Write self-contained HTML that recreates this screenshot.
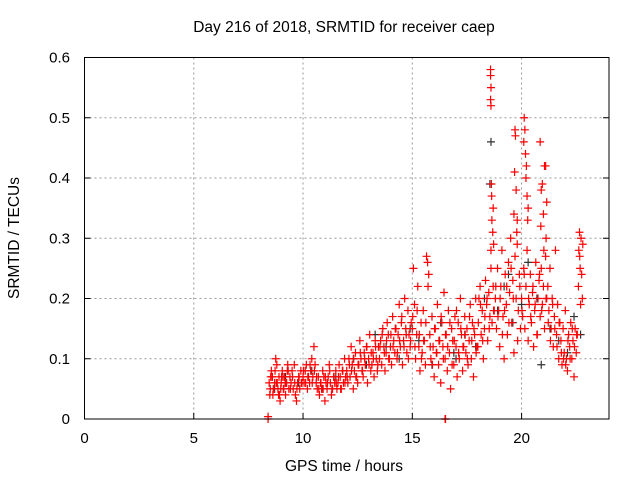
<!DOCTYPE html>
<html><head><meta charset="utf-8"><style>
html,body{margin:0;padding:0;background:#fff;}
svg{display:block;font-family:"Liberation Sans",sans-serif;}
</style></head><body>
<svg id="chart" width="640" height="480" viewBox="0 0 640 480">
<rect width="640" height="480" fill="#fff"/>
<text x="344" y="32" font-size="15.5" text-anchor="middle" fill="#000">Day 216 of 2018, SRMTID for receiver caep</text>
<text x="19" y="238" font-size="15.5" text-anchor="middle" transform="rotate(-90 19 238)">SRMTID / TECUs</text>
<text x="344" y="471" font-size="15.5" text-anchor="middle">GPS time / hours</text>
<g id="grid"></g><g id="ticks"></g><g id="black"></g><g id="red"></g>
<rect x="84.5" y="57.5" width="524.5" height="361.5" fill="none" stroke="#000" stroke-width="1"/>
</svg>
<script>
const xTicks=[0,5,10,15,20];
const yTicks=[0,0.1,0.2,0.3,0.4,0.5,0.6];
const yTickLabels=["0","0.1","0.2","0.3","0.4","0.5","0.6"];
const redT=[8.45,8.5,8.55,8.6,8.62,8.7,8.75,8.8,8.85,8.9,8.95,9.0,9.05,9.1,9.15,9.2,9.25,9.3,9.35,9.4,9.45,9.5,9.55,9.6,9.65,9.7,9.75,9.8,9.85,9.9,9.95,8.48,8.58,8.68,8.78,8.88,8.98,9.08,9.18,9.28,
10.0,10.05,10.1,10.15,10.2,10.25,10.3,10.35,10.4,10.45,10.5,10.55,10.6,10.65,10.7,10.75,10.8,10.85,10.9,10.95,11.0,11.05,11.1,11.15,11.2,11.25,11.3,11.35,11.4,11.45,11.5,11.55,11.6,11.65,11.7,11.75,11.8,11.85,11.9,11.95,
12.0,12.05,12.1,12.15,12.2,12.25,12.3,12.35,12.4,12.45,12.5,12.55,12.6,12.65,12.7,12.75,12.8,12.85,12.9,12.95,13.0,13.05,13.1,13.15,13.2,13.25,13.3,13.35,13.4,13.45,
13.5,13.55,13.6,13.65,13.7,13.75,13.8,13.85,13.9,13.95,14.0,14.05,14.1,14.15,14.2,14.25,14.3,14.35,14.4,14.45,14.5,14.55,14.6,14.65,14.7,14.75,14.8,14.85,14.9,14.95,
15.0,15.05,15.1,15.15,15.2,15.25,15.3,15.35,15.4,15.45,15.5,15.55,15.6,15.65,15.7,15.75,15.8,15.85,15.9,15.95,16.0,16.05,16.1,16.15,16.2,16.25,16.3,16.35,16.4,16.45,16.5,16.55,16.6,16.65,16.7,16.75,16.8,16.85,16.9,16.95,17.0,17.05,17.1,17.15,17.2,17.25,17.3,17.35,17.4,17.45,17.5,17.55,17.6,17.65,17.7,17.75,17.8,17.85,17.9,17.95,
18.0,18.05,18.1,18.15,18.2,18.25,18.3,18.35,18.4,18.45,18.5,18.55,18.6,18.65,18.7,18.75,18.58,18.58,18.6,18.58,18.6,18.62,18.63,18.7,18.64,18.68,18.72,18.6,
18.8,18.85,18.9,18.95,19.0,19.05,19.1,19.15,19.2,19.25,19.3,19.35,19.4,19.45,19.5,19.55,19.6,19.65,19.7,19.75,19.8,19.85,19.9,19.95,19.7,19.72,19.68,19.75,19.65,19.8,19.78,
20.0,20.05,20.1,20.15,20.2,20.25,20.3,20.35,20.4,20.45,20.5,20.55,20.6,20.65,20.7,20.75,20.8,20.85,20.9,20.95,21.0,21.05,21.1,21.15,20.12,20.15,20.1,20.18,20.22,20.2,20.25,20.3,20.28,20.85,21.05,21.1,20.95,20.9,21.15,21.0,20.88,21.12,
21.2,21.25,21.3,21.35,21.4,21.45,21.5,21.55,21.6,21.65,21.7,21.75,21.8,21.85,21.9,21.95,22.0,22.05,22.1,22.15,22.2,22.25,22.3,22.35,22.4,22.45,22.5,22.55,22.6,22.62,22.65,22.68,22.7,22.72,22.75,22.78,22.8,22.66];
const redV=[.06,.05,.08,.07,.04,.06,.1,.09,.05,.07,.03,.06,.08,.05,.07,.04,.06,.09,.05,.07,.06,.08,.05,.09,.04,.03,.06,.07,.05,.08,.06,.04,.07,.05,.06,.04,.05,.07,.06,.08,
.07,.06,.08,.09,.05,.07,.06,.08,.1,.07,.12,.09,.06,.05,.07,.04,.06,.05,.08,.07,.03,.06,.05,.07,.09,.06,.04,.05,.07,.06,.08,.05,.06,.09,.07,.05,.08,.06,.1,.07,
.08,.06,.1,.07,.12,.09,.05,.08,.11,.07,.06,.09,.13,.1,.08,.07,.11,.09,.12,.06,.1,.14,.08,.09,.11,.07,.13,.1,.08,.12,
.1,.13,.09,.15,.12,.08,.11,.16,.14,.1,.12,.09,.17,.13,.11,.15,.1,.14,.19,.12,.16,.09,.13,.2,.15,.11,.18,.14,.12,.16,
.15,.25,.19,.1,.14,.22,.12,.08,.16,.11,.18,.13,.09,.27,.26,.24,.14,.1,.17,.12,.07,.15,.11,.19,.09,.13,.06,.16,.12,.21,.1,.14,.08,.18,.11,.05,.15,.13,.09,.17,.12,.07,.16,.1,.2,.14,.08,.12,.17,.11,.15,.09,.13,.19,.1,.16,.07,.14,.2,.12,
.12,.2,.22,.14,.18,.1,.15,.23,.19,.13,.21,.17,.25,.16,.22,.18,.58,.57,.55,.53,.52,.39,.37,.35,.33,.31,.29,.28,
.2,.15,.25,.18,.12,.22,.28,.17,.1,.24,.19,.14,.26,.21,.3,.16,.23,.11,.27,.2,.29,.18,.24,.15,.48,.47,.41,.38,.34,.33,.31,
.2,.17,.25,.15,.22,.28,.13,.19,.24,.16,.21,.12,.18,.26,.14,.2,.23,.17,.25,.19,.22,.15,.27,.2,.5,.48,.46,.44,.42,.4,.37,.35,.33,.46,.42,.42,.39,.38,.36,.34,.32,.3,
.22,.18,.25,.15,.2,.12,.17,.28,.14,.19,.1,.16,.13,.09,.15,.11,.18,.1,.08,.14,.12,.16,.1,.13,.07,.15,.11,.14,.22,.28,.31,.25,.19,.3,.24,.2,.29,.27];
const extraT=[8.52,8.64,8.72,8.82,8.92,9.02,9.12,9.22,9.32,9.42,9.52,9.62,9.72,9.82,9.92,10.02,10.12,10.22,10.32,10.42,10.52,10.62,10.72,10.82,10.92,11.02,11.12,11.22,11.32,11.42,11.52,11.62,11.72,11.82,11.92,12.02,12.12,12.22,12.32,12.42,12.52,12.62,12.72,12.82,12.92,13.02,13.12,13.22,13.32,13.42,13.52,13.62,13.72,13.82,13.92,14.02,14.12,14.22,14.32,14.42,14.52,14.62,14.72,14.82,14.92,15.02,15.12,15.22,15.32,15.42,15.52,15.62,15.72,15.82,15.92,16.02,16.12,16.22,16.32,16.42,16.52,16.62,16.72,16.82,16.92,17.02,17.12,17.22,17.32,17.42,17.52,17.62,17.72,17.82,17.92,18.02,18.12,18.22,18.32,18.42,18.52,18.72,18.82,18.92,19.02,19.12,19.22,19.32,19.42,19.52,19.62,19.82,19.92,20.02,20.12,20.32,20.42,20.52,20.62,20.72,20.82,20.92,21.02,21.12,21.22,21.32,21.42,21.52,21.62,21.72,21.82,21.92,22.02,22.12,22.22,22.32,22.42,22.52];
const extraV=[.07,.05,.08,.06,.04,.07,.05,.06,.08,.05,.07,.06,.05,.07,.06,.08,.06,.07,.09,.06,.08,.07,.05,.06,.05,.07,.06,.08,.05,.07,.06,.07,.05,.08,.06,.07,.09,.08,.1,.07,.09,.11,.08,.1,.12,.09,.11,.1,.12,.09,.12,.14,.11,.13,.1,.14,.12,.15,.11,.13,.17,.12,.14,.1,.13,.17,.12,.18,.14,.1,.13,.16,.22,.12,.09,.15,.11,.13,.17,.1,.14,.12,.16,.09,.13,.18,.11,.15,.12,.14,.1,.17,.13,.15,.11,.16,.19,.13,.17,.2,.15,.18,.22,.17,.2,.14,.18,.22,.16,.25,.2,.13,.22,.18,.24,.2,.17,.22,.19,.14,.24,.18,.28,.2,.16,.13,.19,.15,.12,.16,.11,.1,.09,.13,.1,.15,.12,.14];
const zeroT=[8.4,8.4,16.5,16.52];
const zeroV=[0,0.004,0,0];
const blackT=[8.7,9.2,9.8,10.4,10.9,11.5,12.3,12.9,13.3,13.8,14.4,14.9,15.3,15.9,16.3,16.9,17.4,17.9,18.3,18.55,18.6,18.9,19.2,19.6,20.0,20.3,20.7,20.9,21.3,21.7,22.1,22.4,22.7,19.4,17.0];
const blackV=[.05,.07,.06,.08,.05,.07,.1,.09,.14,.12,.1,.15,.13,.09,.16,.11,.14,.12,.2,.39,.46,.18,.22,.16,.19,.26,.2,.09,.15,.13,.11,.17,.14,.24,.1];

const X0=84.5,X1=609,XMAX=24,Y0=419,Y1=57.5,YMAX=0.6;
const sx=t=>X0+(X1-X0)*t/XMAX;
const sy=v=>Y0-(Y0-Y1)*v/YMAX;
const NS="http://www.w3.org/2000/svg";
const grid=document.getElementById('grid'),ticks=document.getElementById('ticks');
function mk(tag,attrs,parent){const e=document.createElementNS(NS,tag);for(const k in attrs)e.setAttribute(k,attrs[k]);parent.appendChild(e);return e;}
xTicks.forEach(t=>{
  const x=sx(t);
  if(t>0){const g=mk('line',{x1:x,x2:x,y1:Y1,y2:Y0,stroke:'#999','stroke-dasharray':'2,3'},grid);
  
  }
  const tk=mk('line',{x1:x,x2:x,y1:Y0,y2:Y0-6,stroke:'#000'},ticks);
  
  
  const lb=mk('text',{x:x,y:443,'font-size':15,'text-anchor':'middle'},ticks);lb.textContent=t;
  
  
});
yTicks.forEach((v,i)=>{
  const y=sy(v);
  if(v>0){const g=mk('line',{x1:X0,x2:X1,y1:y,y2:y,stroke:'#999','stroke-dasharray':'2,3'},grid);
  
  }
  const tk=mk('line',{x1:X0,x2:X0+6,y1:y,y2:y,stroke:'#000'},ticks);
  
  
  const tk2=mk('line',{x1:X1,x2:X1-6,y1:y,y2:y,stroke:'#000'},ticks);
  
  
  const lb=mk('text',{x:70,y:y+5,'font-size':15,'text-anchor':'end'},ticks);lb.textContent=yTickLabels[i];
  
  
});
function plus(T,V,color,gid,name){
  const g=document.getElementById(gid);
  T.forEach((t,i)=>{
    const x=sx(t),y=sy(V[i]);
    const p=mk('path',{d:`M${x-4},${y}H${x+4}M${x},${y-4}V${y+4}`,stroke:color,'stroke-width':1.2,fill:'none'},g);
    
    
  });
}
plus(blackT,blackV,'#333','black','black-point');
plus(redT,redV,'#f00','red','red-point');
plus(extraT,extraV,'#f00','red','red-point');
plus(zeroT,zeroV,'#f00','red','zero-point');
</script>
</body></html>
